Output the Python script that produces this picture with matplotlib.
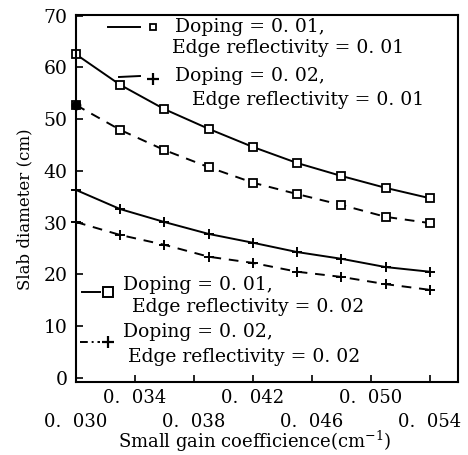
import matplotlib
matplotlib.use("Agg")
import matplotlib.pyplot as plt
from matplotlib.lines import Line2D

plt.rcParams['font.family'] = ['DejaVu Serif']
plt.rcParams['mathtext.fontset'] = 'dejavuserif'

gain = [0.030, 0.033, 0.036, 0.039, 0.042, 0.045, 0.048, 0.051, 0.054]
d1_e1 = [62.5, 56.6, 51.9, 48.1, 44.6, 41.5, 39.0, 36.7, 34.7]
d2_e1 = [52.7, 47.9, 44.0, 40.7, 37.7, 35.5, 33.4, 31.1, 29.9]
d1_e2 = [36.3, 32.6, 30.1, 27.8, 26.1, 24.3, 23.0, 21.4, 20.5]
d2_e2 = [30.1, 27.6, 25.7, 23.4, 22.2, 20.5, 19.5, 18.1, 17.0]

xticks_upper = [0.034, 0.042, 0.050]
xlabels_upper = ["0.  034", "0.  042", "0.  050"]
xticks_lower = [0.030, 0.038, 0.046, 0.054]
xlabels_lower = ["0.  030", "0.  038", "0.  046", "0.  054"]
yticks = [0, 10, 20, 30, 40, 50, 60, 70]

W, H = 468, 455
fig = plt.figure(figsize=(W / 100, H / 100), dpi=100)
ax = fig.add_axes([76 / W, 1 - 382 / H, (458 - 76) / W, (382 - 15) / H])

dash = (0, (5, 4))
ax.plot(gain, d1_e1, color='black', lw=1.4, marker='s', ms=5.5, mfc='white', mew=1.3, clip_on=False)
ax.plot(gain, d2_e1, color='black', lw=1.4, ls=dash, marker='s', ms=5.5, mfc='white', mew=1.3, clip_on=False)
ax.plot(gain, d1_e2, color='black', lw=1.4, marker='+', ms=7, mew=1.4, clip_on=False)
ax.plot(gain, d2_e2, color='black', lw=1.4, ls=dash, marker='+', ms=7, mew=1.4, clip_on=False)
ax.plot([gain[0]], [d2_e1[0]], marker='o', ms=6, color='black', clip_on=False)

ax.set_xlim(0.030, 0.0559)
ax.set_ylim(-0.8, 70.1)
ax.set_xticks(xticks_upper)
ax.set_xticklabels(xlabels_upper, fontsize=13)
ax.set_xticks(xticks_lower, minor=True)
ax.set_xticklabels(xlabels_lower, minor=True, fontsize=13)
ax.set_yticks(yticks)
ax.set_yticklabels([str(v) for v in yticks], fontsize=13.5)
ax.tick_params(axis='both', which='both', direction='in', length=5, width=1.2)
ax.tick_params(axis='x', which='major', pad=5)
ax.tick_params(axis='x', which='minor', pad=22)
ax.tick_params(axis='y', pad=6)
for s in ax.spines.values():
    s.set_linewidth(1.5)

fig.text(25 / W, 1 - 209 / H, "Slab diameter (cm)", rotation=90, ha='center', va='center', fontsize=12)
fig.text(255 / W, 1 - 448 / H, "Small gain coefficience(cm$^{-1}$)", ha='center', va='baseline', fontsize=13)

def fx(x):
    return x / W

def fy(y):
    return 1 - y / H

fs = 13.5
# upper legend
fig.add_artist(Line2D([fx(108), fx(140)], [fy(27), fy(27)], color='black', lw=1.4))
fig.add_artist(Line2D([fx(153)], [fy(27)], marker='s', ms=5, mfc='white', mec='black', mew=1.3, ls='none'))
fig.text(fx(175), fy(27), "Doping = 0. 01,", fontsize=fs, va='center')
fig.text(fx(172), fy(48), "Edge reflectivity = 0. 01", fontsize=fs, va='center')
fig.add_artist(Line2D([fx(119), fx(140)], [fy(77), fy(76)], color='black', lw=1.4))
fig.add_artist(Line2D([fx(153)], [fy(79)], marker='+', ms=8, mec='black', mew=1.6, ls='none'))
fig.text(fx(175), fy(76), "Doping = 0. 02,", fontsize=fs, va='center')
fig.text(fx(192), fy(100), "Edge reflectivity = 0. 01", fontsize=fs, va='center')
# lower legend
fig.add_artist(Line2D([fx(82), fx(100)], [fy(292), fy(292)], color='black', lw=1.4))
fig.add_artist(Line2D([fx(108)], [fy(292)], marker='s', ms=6.5, mfc='white', mec='black', mew=1.4, ls='none'))
fig.text(fx(123), fy(285), "Doping = 0. 01,", fontsize=fs, va='center')
fig.text(fx(132), fy(307), "Edge reflectivity = 0. 02", fontsize=fs, va='center')
fig.add_artist(Line2D([fx(80), fx(100)], [fy(342), fy(342)], color='black', lw=1.4, ls=(0, (4, 2, 1, 2))))
fig.add_artist(Line2D([fx(108)], [fy(342)], marker='+', ms=8, mec='black', mew=1.6, ls='none'))
fig.text(fx(123), fy(332), "Doping = 0. 02,", fontsize=fs, va='center')
fig.text(fx(128), fy(357), "Edge reflectivity = 0. 02", fontsize=fs, va='center')

fig.savefig("out.png", dpi=100)
